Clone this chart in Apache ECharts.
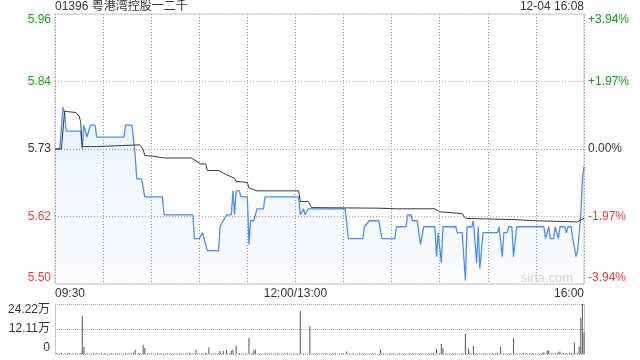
<!DOCTYPE html>
<html>
<head>
<meta charset="utf-8">
<script src="https://cdn.jsdelivr.net/npm/echarts@6/dist/echarts.min.js"></script>
<style>
html,body{margin:0;padding:0;background:#fff;}
#c{width:640px;height:360px;}
</style>
</head>
<body>
<div id="c"></div>
<script>
// ---- data ----
const titleText = '01396 粤港湾控股一二千';
const stampText = '12-04 16:08';
const prevClose = 5.73;
const pctRange = 3.94;           // axis spans ±3.94%
const volMax = 24.22;            // 万
const tickMinutes = [0, 150, 330];
const tickText = ['09:30', '12:00/13:00', '16:00'];

// minute index (0 = 09:30, 150 = 12:00/13:00, 330 = 16:00) and last price
const priceMin = [0,3,5,6,7,16,17,18,20,22,25,26,43,44,48,50,51,54,56,67,68,86,87,90,92,93,95,102,103,105,107,110,111,112,113,115,116,120,121,122,124,126,130,131,152,153,155,156,158,181,183,192,193,194,196,202,204,212,213,219,220,222,223,226,228,230,237,238,239,241,242,250,251,254,256,257,260,261,263,264,265,267,276,277,279,280,282,283,285,286,288,305,306,307,308,309,311,312,314,315,318,319,320,322,323,325,326,327,328,329,330];
const priceVal = [5.73,5.73,5.80,5.79,5.76,5.76,5.73,5.77,5.75,5.77,5.77,5.75,5.75,5.77,5.77,5.72,5.68,5.68,5.65,5.65,5.62,5.62,5.58,5.58,5.59,5.59,5.56,5.56,5.60,5.61,5.62,5.62,5.66,5.62,5.66,5.66,5.65,5.65,5.57,5.61,5.61,5.63,5.63,5.65,5.65,5.62,5.63,5.62,5.63,5.63,5.58,5.58,5.60,5.60,5.61,5.61,5.58,5.58,5.60,5.60,5.62,5.62,5.61,5.61,5.57,5.60,5.60,5.55,5.59,5.54,5.60,5.60,5.59,5.59,5.51,5.60,5.60,5.61,5.54,5.60,5.53,5.59,5.59,5.60,5.55,5.59,5.59,5.60,5.60,5.55,5.60,5.60,5.58,5.58,5.60,5.58,5.58,5.60,5.58,5.60,5.60,5.59,5.60,5.60,5.58,5.55,5.56,5.59,5.62,5.68,5.70];

// average price line
const avgMin = [0,4,6,13,15,16,17,26,27,53,55,56,61,68,85,86,91,94,95,102,107,112,113,120,121,124,126,152,153,158,160,202,213,237,240,254,256,285,300,326,328,330];
const avgVal = [5.73,5.73,5.793,5.791,5.785,5.776,5.734,5.734,5.737,5.737,5.729,5.719,5.718,5.715,5.715,5.712,5.705,5.705,5.694,5.694,5.687,5.681,5.676,5.674,5.665,5.662,5.660,5.660,5.642,5.642,5.632,5.631,5.630,5.630,5.625,5.622,5.614,5.612,5.610,5.608,5.612,5.614];

// volume per minute (万)
const volMin = [1,2,4,6,8,9,11,13,14,16,17,18,20,22,24,26,27,29,31,33,35,36,38,40,42,44,46,47,49,50,52,53,55,56,58,60,62,64,66,68,70,72,74,76,78,80,82,84,86,88,90,92,94,96,98,100,102,103,105,107,109,110,111,113,115,117,119,121,123,124,125,127,129,131,133,135,137,139,141,143,145,147,149,151,153,155,157,159,161,163,165,167,169,171,173,175,177,179,180,182,184,186,188,190,192,194,196,198,200,203,205,207,209,211,213,215,217,219,221,223,225,227,229,231,233,235,236,238,240,241,242,244,246,248,250,252,254,256,258,259,261,263,265,267,269,271,273,275,276,278,280,282,284,286,288,290,292,294,296,298,300,302,304,305,307,308,310,312,314,315,317,319,321,322,324,326,327,328,329,330];
const volVal = [0.4,0.3,0.5,0.3,0.4,0.5,0.3,0.4,0.3,0.5,18.4,3.5,0.4,0.3,0.5,0.4,0.3,0.4,0.5,0.3,0.4,0.3,0.5,0.4,0.3,0.5,0.4,0.3,0.6,2.0,0.4,0.3,4.5,2.9,0.5,0.4,0.3,0.5,0.4,0.3,0.4,0.5,0.3,0.4,0.5,0.3,0.4,0.5,0.4,2.0,0.3,0.4,0.5,3.2,0.4,0.3,0.5,1.4,1.6,2.0,0.4,1.6,2.0,4.0,0.5,0.3,0.4,7.7,0.5,1.7,2.0,0.4,0.3,0.5,0.4,0.3,0.4,0.5,0.3,0.4,0.5,0.3,0.4,0.5,21.0,0.4,0.3,13.4,0.4,0.5,0.3,0.4,0.5,0.3,0.4,0.5,0.3,0.4,0.3,1.2,0.4,0.5,0.3,0.4,0.5,0.3,0.4,0.5,0.3,2.0,0.4,0.3,0.5,0.4,0.3,0.5,0.4,0.3,0.5,0.4,0.3,0.5,0.4,0.3,0.5,0.4,0.6,2.4,0.5,4.8,2.8,0.4,0.3,0.5,0.4,0.3,0.5,9.8,2.6,0.5,3.9,0.4,0.3,0.5,0.4,0.3,0.5,0.4,0.6,3.5,0.4,0.3,0.5,7.8,0.4,0.3,0.5,0.4,0.3,0.5,0.4,0.3,0.5,0.8,1.7,1.7,0.5,0.6,0.8,1.2,0.5,0.4,0.6,0.5,5.5,0.6,3.5,17.6,24.22,10.5];

// ---- chart ----
const FONT = "'Liberation Sans', Arial, 'Noto Sans CJK SC', sans-serif";
const toPct = p => (p / prevClose - 1) * 100;
const pricePts = priceMin.map((m, i) => [m, toPct(priceVal[i])]);
const avgPts = avgMin.map((m, i) => [m, toPct(avgVal[i])]);
const volPts = volMin.map((m, i) => [m, volVal[i]]);
const pctColor = v => v > 0.001 ? '#1a9d1a' : (v < -0.001 ? '#f03c3c' : '#333');

const chart = echarts.init(document.getElementById('c'), null, {renderer: 'canvas'});
chart.setOption({
  animation: false,
  backgroundColor: '#fff',
  title: [
    {text: titleText, left: 55, top: 1, padding: 0,
     textStyle: {fontSize: 12, fontWeight: 'normal', color: '#333', fontFamily: FONT}},
    {text: stampText, right: 56, top: 1, padding: 0,
     textStyle: {fontSize: 12, fontWeight: 'normal', color: '#333', fontFamily: FONT}}
  ],
  graphic: [
    {type: 'text', right: 67, top: 272, silent: true,
     style: {text: 'sina.com', font: "13px " + FONT, fill: '#d6d6d6'}}
  ],
  grid: [
    {left: 55, top: 14, width: 529, height: 270, show: true, borderColor: '#c8c8c8', borderWidth: 1, containLabel: false},
    {left: 55, top: 304, width: 529, height: 50, show: false, containLabel: false}
  ],
  xAxis: [
    {type: 'value', gridIndex: 0, min: 0, max: 330, interval: 30,
     axisLine: {show: false}, axisTick: {show: false},
     splitLine: {show: true, lineStyle: {color: '#9a9a9a', type: [1, 2], width: 1}},
     axisLabel: {show: true, margin: 4, fontSize: 12, color: '#333', fontFamily: FONT,
       alignMinLabel: 'left', alignMaxLabel: 'right', showMinLabel: true, showMaxLabel: true,
       formatter: v => { const i = tickMinutes.indexOf(Math.round(v)); return i >= 0 ? tickText[i] : ''; }}},
    {type: 'value', gridIndex: 1, min: 0, max: 330, interval: 30,
     axisLine: {show: false}, axisTick: {show: false}, axisLabel: {show: false},
     splitLine: {show: false}}
  ],
  yAxis: [
    {type: 'value', gridIndex: 0, position: 'left', min: -pctRange, max: pctRange, interval: pctRange / 2,
     axisLine: {show: false}, axisTick: {show: false},
     splitLine: {show: true, lineStyle: {color: ['#c8c8c8', '#a8a8a8', '#909090', '#a8a8a8', '#c8c8c8'], type: [1, 2], width: 1}},
     axisLabel: {margin: 4, fontSize: 12, fontFamily: FONT,
       verticalAlignMaxLabel: 'top', verticalAlignMinLabel: 'bottom',
       color: v => pctColor(v),
       formatter: v => (prevClose * (1 + v / 100)).toFixed(2)}},
    {type: 'value', gridIndex: 0, position: 'right', min: -pctRange, max: pctRange, interval: pctRange / 2,
     axisLine: {show: false}, axisTick: {show: false}, splitLine: {show: false},
     axisLabel: {margin: 4, fontSize: 12, fontFamily: FONT,
       verticalAlignMaxLabel: 'top', verticalAlignMinLabel: 'bottom',
       color: v => pctColor(v),
       formatter: v => (Math.abs(v) < 0.001 ? '0.00' : (v > 0 ? '+' : '') + v.toFixed(2)) + '%'}},
    {type: 'value', gridIndex: 1, position: 'left', min: 0, max: volMax, interval: volMax / 2,
     axisLine: {show: true, lineStyle: {color: '#c8c8c8'}}, axisTick: {show: false},
     splitLine: {show: true, lineStyle: {color: '#a8a8a8', type: [1, 1], width: 1}},
     axisLabel: {margin: 5, fontSize: 12, fontFamily: FONT, color: '#333',
       verticalAlignMaxLabel: 'top', verticalAlignMinLabel: 'bottom',
       formatter: v => v < 0.001 ? '0' : v.toFixed(2) + '万'}},
    {type: 'value', gridIndex: 1, position: 'right', min: 0, max: volMax, interval: volMax / 2,
     axisLine: {show: true, lineStyle: {color: '#c8c8c8'}}, axisTick: {show: false},
     splitLine: {show: false}, axisLabel: {show: false}}
  ],
  series: [
    {name: 'price', type: 'line', xAxisIndex: 0, yAxisIndex: 0, data: pricePts,
     showSymbol: false, symbol: 'none', z: 3,
     lineStyle: {color: '#4d8ff5', width: 1.3},
     areaStyle: {origin: 'start', color: new echarts.graphic.LinearGradient(0, 0, 0, 1, [
       {offset: 0, color: 'rgba(77,143,245,0.16)'},
       {offset: 1, color: 'rgba(77,143,245,0.03)'}])}},
    {name: 'avg', type: 'line', xAxisIndex: 0, yAxisIndex: 0, data: avgPts,
     showSymbol: false, symbol: 'none', z: 4,
     lineStyle: {color: '#3a3a3a', width: 1}},
    {name: 'vol', type: 'bar', xAxisIndex: 1, yAxisIndex: 2, data: volPts,
     barWidth: 1, itemStyle: {color: '#555'}}
  ]
});
</script>
</body>
</html>
